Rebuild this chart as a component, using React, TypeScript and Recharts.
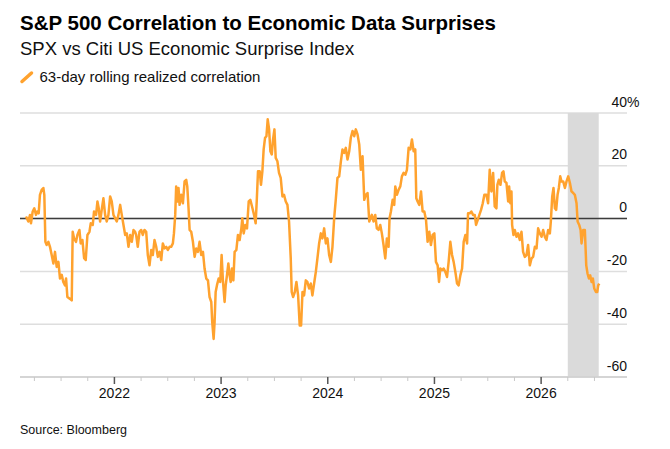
import { LineChart, Line, XAxis, YAxis, CartesianGrid, ReferenceLine, ReferenceArea } from "recharts";

// Dates as decimal years, values in % (63-day rolling correlation)
const dates = [
  2021.171, 2021.193, 2021.209, 2021.218, 2021.234, 2021.249, 2021.265, 2021.277, 2021.29, 2021.302,
  2021.318, 2021.334, 2021.343, 2021.353, 2021.365, 2021.381, 2021.396, 2021.412, 2021.428, 2021.443,
  2021.459, 2021.475, 2021.49, 2021.506, 2021.521, 2021.537, 2021.547, 2021.559, 2021.584, 2021.6,
  2021.609, 2021.622, 2021.64, 2021.653, 2021.672, 2021.684, 2021.7, 2021.716, 2021.731, 2021.747,
  2021.766, 2021.778, 2021.797, 2021.809, 2021.828, 2021.841, 2021.853, 2021.866, 2021.881, 2021.897,
  2021.913, 2021.928, 2021.944, 2021.96, 2021.975, 2021.991, 2022.007, 2022.022, 2022.038, 2022.054,
  2022.069, 2022.085, 2022.101, 2022.116, 2022.132, 2022.148, 2022.163, 2022.179, 2022.194,
  2022.204, 2022.219, 2022.235, 2022.251, 2022.266, 2022.282, 2022.298, 2022.313, 2022.329, 2022.345,
  2022.36, 2022.376, 2022.392, 2022.407, 2022.423, 2022.439, 2022.454, 2022.47, 2022.486, 2022.501,
  2022.517, 2022.532, 2022.548, 2022.558, 2022.57, 2022.579, 2022.592, 2022.601, 2022.611, 2022.626,
  2022.642, 2022.658, 2022.673, 2022.683, 2022.695, 2022.705, 2022.72, 2022.736, 2022.752, 2022.767,
  2022.783, 2022.798, 2022.814, 2022.83, 2022.845, 2022.861, 2022.877, 2022.892, 2022.908, 2022.917,
  2022.93, 2022.939, 2022.949, 2022.961, 2022.977, 2022.992, 2023.005, 2023.018, 2023.033, 2023.043,
  2023.055, 2023.068, 2023.08, 2023.09, 2023.102, 2023.115, 2023.127, 2023.143, 2023.158, 2023.174,
  2023.19, 2023.199, 2023.212, 2023.227, 2023.243, 2023.259, 2023.274, 2023.29,
  2023.309, 2023.324, 2023.334, 2023.346, 2023.362, 2023.374, 2023.387, 2023.399, 2023.412, 2023.425,
  2023.437, 2023.45, 2023.462, 2023.475, 2023.487, 2023.5, 2023.512, 2023.528, 2023.543, 2023.559,
  2023.575, 2023.59, 2023.606, 2023.622, 2023.637, 2023.653, 2023.662, 2023.675, 2023.691, 2023.706,
  2023.722, 2023.737, 2023.75, 2023.763, 2023.778, 2023.794, 2023.809, 2023.825, 2023.841, 2023.856,
  2023.872, 2023.888, 2023.903, 2023.919, 2023.935, 2023.95, 2023.966, 2023.982, 2023.997, 2024.013,
  2024.029, 2024.044, 2024.06, 2024.076, 2024.091, 2024.107, 2024.123, 2024.138, 2024.154, 2024.169,
  2024.185, 2024.201, 2024.216, 2024.232, 2024.248, 2024.263, 2024.279, 2024.295, 2024.31, 2024.326,
  2024.342, 2024.357, 2024.373, 2024.389,
  2024.413, 2024.429, 2024.445, 2024.46, 2024.476, 2024.492, 2024.507, 2024.523, 2024.539, 2024.554,
  2024.57, 2024.579, 2024.592, 2024.608, 2024.623, 2024.633, 2024.648, 2024.664, 2024.68, 2024.695,
  2024.711, 2024.727, 2024.742, 2024.758, 2024.774, 2024.789, 2024.805, 2024.82, 2024.83, 2024.842,
  2024.858, 2024.874, 2024.889, 2024.905, 2024.921, 2024.936, 2024.952, 2024.967, 2024.983, 2024.999,
  2025.014, 2025.03, 2025.043, 2025.055, 2025.071, 2025.087, 2025.102, 2025.118, 2025.133, 2025.149,
  2025.165, 2025.18, 2025.196, 2025.212, 2025.227, 2025.243, 2025.259, 2025.274, 2025.29, 2025.306,
  2025.315, 2025.331, 2025.346, 2025.362, 2025.378, 2025.39, 2025.406, 2025.421, 2025.437, 2025.453,
  2025.468,
  2025.487, 2025.503, 2025.518, 2025.534, 2025.55, 2025.565, 2025.581, 2025.59, 2025.603, 2025.619,
  2025.634, 2025.647, 2025.659, 2025.675, 2025.691, 2025.7, 2025.712, 2025.722, 2025.728, 2025.741,
  2025.753, 2025.769, 2025.784, 2025.8, 2025.816, 2025.831, 2025.847, 2025.863, 2025.878, 2025.894,
  2025.91, 2025.925, 2025.941, 2025.957, 2025.972, 2025.988, 2026.004, 2026.019, 2026.035, 2026.05,
  2026.066, 2026.082, 2026.091, 2026.104, 2026.116, 2026.129, 2026.141, 2026.154, 2026.166, 2026.179,
  2026.191, 2026.207, 2026.223, 2026.238, 2026.254, 2026.27, 2026.285, 2026.301, 2026.316, 2026.332,
  2026.342, 2026.357, 2026.37, 2026.379, 2026.395, 2026.41, 2026.423, 2026.435, 2026.448, 2026.46,
  2026.473, 2026.485, 2026.498, 2026.514, 2026.526, 2026.535, 2026.545,
];

const corr = [
  0.8, -1.1, 1.4, -1.8, 2.7, 3.9, 1.4, 2.7, 2.0, 9.0,
  10.9, 11.6, 9.0, -8.8, -10.0, -8.8, -10.7, -13.8, -17.0, -12.6,
  -18.3, -16.4, -22.7, -21.3, -24.0, -25.3, -22.7, -29.7, -30.4, -31.0,
  -5.0, -7.5, -8.8, -6.2, -4.3, -9.4, -8.1, -15.0, -15.7, -6.2,
  -5.0, -1.8, -2.4, 2.7, 1.4, 6.5, 3.9, -1.1, 3.3, 7.7,
  1.4, -1.1, 1.4, 8.4, 6.5, 1.4, 0.1, -1.1, 1.4, 5.2,
  1.4, -2.4, -6.2, -5.6, -10.7, -6.2, -8.8, -4.3, -5.0,
  -6.2, -10.7, -5.0, -4.3, -6.2, -4.3, -5.0, -13.8, -17.7, -11.9,
  -13.8, -8.1, -10.7, -14.5, -12.6, -15.7, -9.4, -11.3, -10.7, -11.9,
  -10.7, -10.7, -9.4, -5.6, 1.4, 12.2, 6.5, 11.6, 5.2, 9.0,
  5.8, 14.1, 14.7, 12.2, 3.9, -4.3, -5.0, -8.8, -14.5, -11.3,
  -12.6, -8.8, -13.8, -12.6, -18.9, -22.7, -23.4, -29.7, -31.6, -39.2,
  -45.6, -39.2, -27.8, -25.3, -22.7, -24.0, -13.8, -24.0, -31.6, -25.3,
  -21.5, -17.0, -21.5, -24.0, -18.9, -23.4, -12.6, -11.9, -6.2, -8.1,
  -3.7, 0.1, -5.6, -2.4, -3.7, 6.5, 7.1, 4.6,
  1.4, -1.8, 6.5, 17.9, 17.9, 12.8, 17.9, 26.2, 30.6, 31.2,
  37.6, 33.8, 25.5, 24.3, 30.0, 33.8, 23.0, 21.7, 17.3, 15.4,
  8.4, 9.0, 6.5, 5.2, -1.1, -15.1, -27.8, -29.7, -27.8, -24.0,
  -29.1, -40.5, -40.5, -27.8, -29.1, -23.4, -24.0, -26.5, -24.6, -29.1,
  -24.6, -20.2, -15.1, -9.4, -5.6, -7.5, -3.7, -9.4, -7.5, -13.8,
  -16.4, -10.7, 0.1, 7.7, 15.4, 16.0, 21.7, 26.2, 24.9, 26.8,
  22.4, 25.5, 30.6, 33.2, 31.2, 33.8, 31.9, 28.1, 18.5, 23.6,
  7.1, 9.0, 9.7, -1.1,
  1.4, -1.1, 1.4, -3.7, -4.3, -2.4, -5.6, -10.0, -15.1, -7.5,
  -10.7, 0.1, 2.7, 7.1, 5.2, 12.2, 9.0, 10.9, 12.2, 16.0,
  17.3, 16.6, 18.5, 26.8, 26.2, 30.0, 25.5, 26.2, 7.7, 6.5,
  5.2, 10.3, 2.7, 2.7, -0.5, -8.8, -5.0, -10.0, -6.2, -5.6,
  -16.4, -17.7, -24.0, -18.9, -19.5, -18.9, -20.2, -22.1, -16.4, -8.8,
  -13.8, -16.4, -20.2, -24.6, -25.3, -21.5, -18.9, -8.8, -6.2, -9.4,
  2.0, 2.0, 2.7, 1.4, 1.4, -2.4, -0.5, 1.4, 3.3, 5.8,
  9.0,
  9.0, 5.8, 18.5, 10.3, 17.3, 4.6, 3.9, 12.8, 14.7, 12.8,
  17.3, 17.9, 14.1, 13.5, 6.5, 12.2, 5.8, 10.3, -2.4, -6.2,
  -4.3, -6.9, -5.6, -8.1, -5.0, -12.6, -14.5, -13.8, -10.0, -17.7,
  -15.1, -14.5, -10.7, -11.3, -3.7, -5.6, -6.9, -4.3, -6.9, -8.1,
  -4.3, -5.6, -1.1, 8.4, 11.6, 3.9, 3.3, 9.0, 11.6, 16.0,
  14.1, 14.1, 11.6, 14.1, 16.0, 13.5, 10.3, 9.7, 9.0, 5.8,
  -1.1, -2.4, -4.3, -9.4, -4.3, -4.3, -17.7, -20.8, -22.7, -21.5,
  -24.0, -22.7, -26.5, -27.8, -27.8, -25.3, -24.6,
];

const xTicks = [
  2021.25, 2021.5, 2021.75, 2022, 2022.25, 2022.5, 2022.75, 2023, 2023.25, 2023.5, 2023.75,
  2024, 2024.25, 2024.5, 2024.75, 2025, 2025.25, 2025.5, 2025.75, 2026, 2026.25, 2026.5,
];
const yTicks = [-60, -40, -20, 0, 20, 40];
const xDomain = [2021.115, 2026.805];
const shadeStart = 2026.25;
const shadeEnd = 2026.54;

const data = dates.map((t, i) => ({ t, v: corr[i] }));

const FONT = "'Liberation Sans', Arial, sans-serif";
const ORANGE = "#FFA22E";

function XTick(props: any) {
  const { x, y, payload } = props;
  const major = Number.isInteger(payload.value);
  return (
    <g>
      <line
        x1={x}
        x2={x}
        y1={y}
        y2={y + (major ? 7 : 4)}
        stroke={major ? "#555" : "#c8c8c8"}
        strokeWidth={major ? 1.5 : 1}
      />
      {major && (
        <text x={x} y={y + 21} textAnchor="middle" fontSize={14} fill="#111" fontFamily={FONT}>
          {payload.value}
        </text>
      )}
    </g>
  );
}

function YTick(props: any) {
  const { x, y, payload } = props;
  const top = payload.value === 40;
  return (
    <g>
      <text x={x} y={y - 6.5} textAnchor="end" fontSize={14} fill="#111" fontFamily={FONT}>
        {payload.value}
      </text>
      {top && (
        <text x={x} y={y - 6.5} textAnchor="start" fontSize={14} fill="#111" fontFamily={FONT}>
          %
        </text>
      )}
    </g>
  );
}

export default function App() {
  return (
    <div
      style={{
        position: "absolute",
        left: 0,
        top: 0,
        width: 670,
        height: 449,
        background: "#fff",
        fontFamily: FONT,
      }}
    >
      <LineChart width={670} height={449} data={data} margin={{ top: 113, right: 0, bottom: 42, left: 20 }}>
        <ReferenceArea x1={shadeStart} x2={shadeEnd} fill="#dadada" fillOpacity={1} stroke="none" />
        <CartesianGrid vertical={false} stroke="#dedede" strokeWidth={1.5} />
        <XAxis
          dataKey="t"
          type="number"
          domain={xDomain}
          ticks={xTicks}
          interval={0}
          tickSize={0}
          tickMargin={0}
          tickLine={false}
          axisLine={{ stroke: "#cfcfcf", strokeWidth: 1.5 }}
          tick={(p) => <XTick {...p} />}
          height={30}
        />
        <YAxis
          orientation="right"
          domain={[-60, 40]}
          ticks={yTicks}
          interval={0}
          tickSize={0}
          tickMargin={0}
          tickLine={false}
          axisLine={false}
          tick={(p) => <YTick {...p} />}
          width={43}
        />
        <ReferenceLine y={0} stroke="#3c3c3c" strokeWidth={1.5} />
        <Line
          type="linear"
          dataKey="v"
          stroke={ORANGE}
          strokeWidth={2.5}
          dot={false}
          isAnimationActive={false}
          strokeLinejoin="round"
        />
      </LineChart>
      <svg width={670} height={449} style={{ position: "absolute", left: 0, top: 0, pointerEvents: "none" }}>
        <text x={20} y={30} fontSize={20.5} fontWeight={700} fill="#000" fontFamily={FONT}>
          S&amp;P 500 Correlation to Economic Data Surprises
        </text>
        <text x={20} y={55} fontSize={18.5} fill="#111" fontFamily={FONT}>
          SPX vs Citi US Economic Surprise Index
        </text>
        <line x1={22} y1={81.5} x2={31.5} y2={73} stroke={ORANGE} strokeWidth={3.5} strokeLinecap="round" />
        <text x={39.5} y={81.5} fontSize={15} fill="#111" fontFamily={FONT}>
          63-day rolling realized correlation
        </text>
        <text x={20} y={433.5} fontSize={12.5} fill="#111" fontFamily={FONT}>
          Source: Bloomberg
        </text>
      </svg>
    </div>
  );
}
